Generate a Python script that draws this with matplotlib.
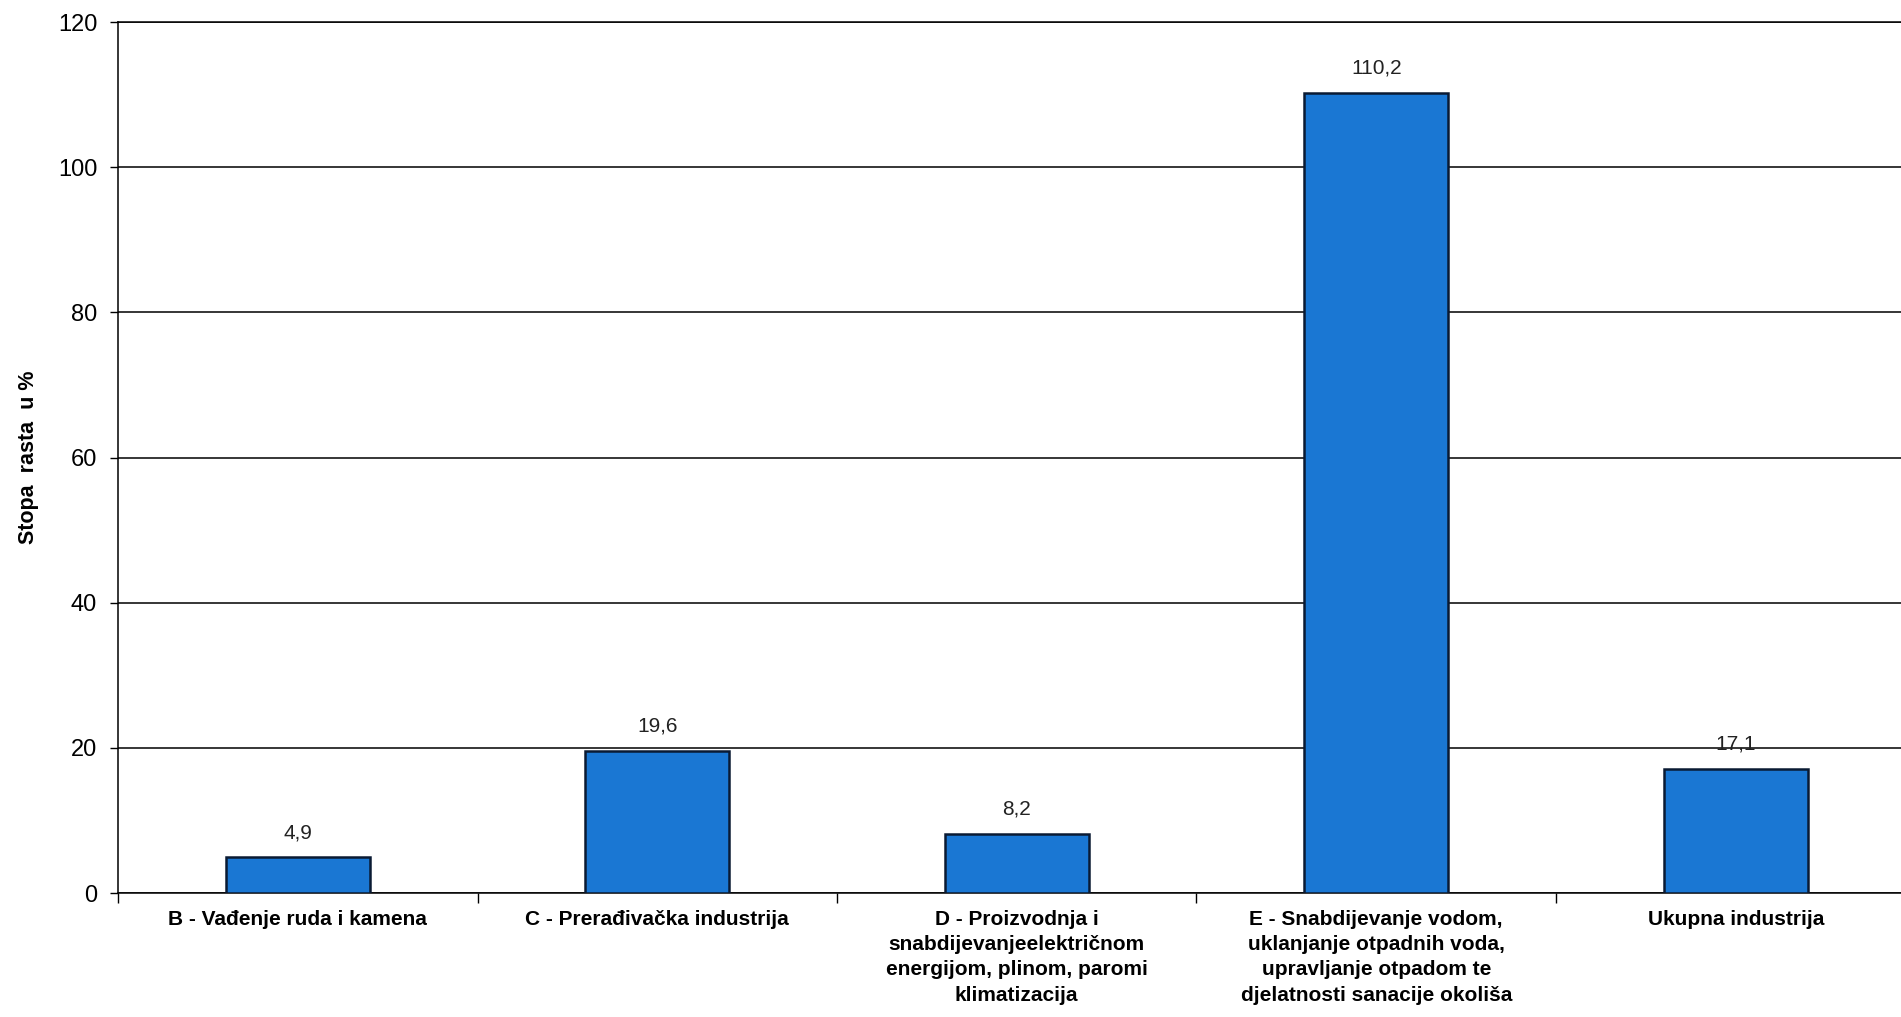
import numpy as np
import matplotlib
matplotlib.use("Agg")
import matplotlib.pyplot as plt

# ---------------- DATA ----------------
categories = [
    "B - Vađenje ruda i kamena",
    "C - Prerađivačka industrija",
    "D - Proizvodnja i\nsnabdijevanjeelektričnom\nenergijom, plinom, paromi\nklimatizacija",
    "E - Snabdijevanje vodom,\nuklanjanje otpadnih voda,\nupravljanje otpadom te\ndjelatnosti sanacije okoliša",
    "Ukupna industrija",
]
values = [4.9, 19.6, 8.2, 110.2, 17.1]
value_labels = ["4,9", "19,6", "8,2", "110,2", "17,1"]
y_ticks = [0, 20, 40, 60, 80, 100, 120]

# ---------------- STYLE ----------------
plt.rcParams["font.family"] = ["Liberation Sans", "DejaVu Sans"]
BAR_COLOR = "#1a77d3"

fig = plt.figure(figsize=(19.01, 10.17), dpi=100)
ax = fig.add_axes([0.0621, 0.1219, 0.9455, 0.8564])

x = np.arange(len(categories))
bars = ax.bar(x, values, width=0.4, color=BAR_COLOR, edgecolor="#0a1a33",
              linewidth=1.8, zorder=3)

# value labels above bars
for xi, v, lab in zip(x, values, value_labels):
    ax.annotate(lab, (xi, v), xytext=(0, 11), textcoords="offset points",
                ha="center", va="bottom", fontsize=15, color="#222222", zorder=4)

ax.set_xlim(-0.5, len(categories) - 0.5)
ax.set_ylim(0, 120)
ax.set_yticks(y_ticks)
ax.yaxis.grid(True, color="black", linewidth=1.1, zorder=1)
ax.tick_params(axis="y", labelsize=17, length=6, width=1, pad=9)

# ticks on category boundaries, labels at centres
ax.set_xticks(np.arange(-0.5, len(categories)), minor=False)
ax.set_xticklabels([])
ax.set_xticks(x, minor=True)
ax.set_xticklabels(categories, minor=True, fontsize=15, fontweight="bold",
                   linespacing=1.42)
ax.tick_params(axis="x", which="major", length=7, width=1)
ax.tick_params(axis="x", which="minor", length=0, pad=12)

for side in ["left", "bottom", "top"]:
    ax.spines[side].set_color("black")
    ax.spines[side].set_linewidth(1.1)
ax.spines["right"].set_visible(False)

ax.set_ylabel("Stopa  rasta  u %", fontsize=15.5, fontweight="bold")
ax.yaxis.set_label_coords(-0.044, 0.5)

fig.savefig("out.png", dpi=100, facecolor="white")
